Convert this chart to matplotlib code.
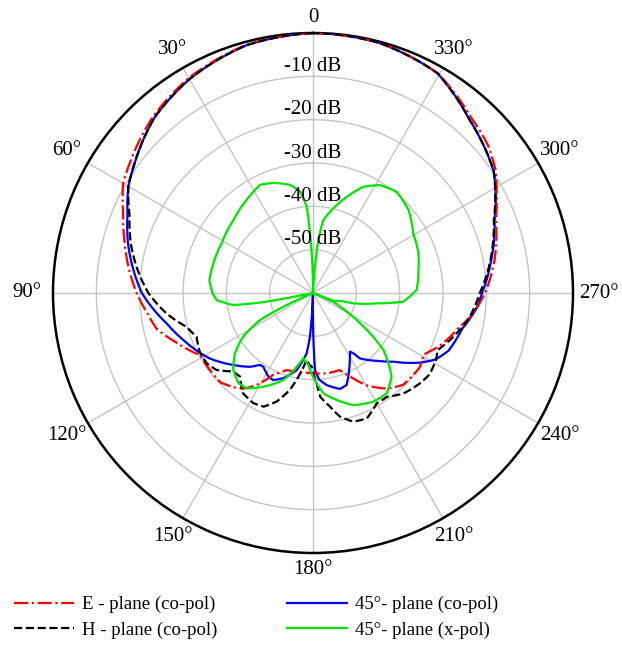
import numpy as np
import matplotlib
matplotlib.use("Agg")
import matplotlib.pyplot as plt

plt.rcParams['font.family'] = ['Liberation Serif', 'DejaVu Serif']

# angles in degrees (counter-clockwise from top), levels in dB
e_ang = [0, 15, 30, 42, 54, 60, 67, 75, 82, 90, 97, 103, 110, 119, 127, 134, 140, 144, 148.5,
         154, 161, 170.5, 180, 189.5, 199, 204, 210, 217.5, 224.5, 235, 241, 247.5, 256.5, 262,
         270, 280, 292, 298, 304, 310, 318, 330.5, 345, 360]
e_db = [0, -0.7, -2.7, -5, -8, -9.4, -12.4, -15, -17, -19.3, -21.5, -23, -26.5, -30.3, -30.3,
        -30.3, -31.6, -32.7, -35.1, -39, -41.2, -41.6, -41.5, -41.2, -41.2, -38.9, -35.4, -32.2,
        -30.3, -30, -30.8, -28.3, -25.5, -23, -20.3, -17.5, -14.5, -12, -9.2, -7.2, -5.5, -1.7,
        -0.3, 0]

h_ang = [0, 15, 30, 42, 54, 60, 67, 75, 82, 90, 98, 105, 110.5, 118, 123.5, 128.5, 134.5, 139,
         141, 145, 151.5, 156.5, 161.5, 166.5, 171, 174.5, 177, 179, 182.3, 184, 188.5, 192.3,
         197.4, 203.2, 210, 215.4, 222, 229.8, 235, 241.6, 245.3, 251, 261.4, 270, 280, 292,
         304, 318, 330.5, 345, 360]
h_db = [0, -0.8, -3, -5.4, -9.1, -10.8, -14, -16.5, -19, -22, -25.9, -29.8, -31.3, -30.5, -30.6,
        -31.5, -34.2, -34.4, -33.5, -31.8, -31.1, -31.4, -33.6, -37, -41.2, -44.5, -43.5, -43,
        -39.1, -36, -33.5, -30.8, -28.9, -28.5, -30.6, -30.6, -28.8, -27.7, -27.2, -27.7, -28.4,
        -26.6, -23.4, -21.5, -18.5, -15, -9.7, -6.1, -1.7, -0.3, 0]

b_ang = [0, 15, 30, 42, 54, 60, 67, 75, 82, 90, 101.7, 110, 118, 122.4, 132, 139.5, 143.6, 146,
         152, 155.5, 160.8, 168, 174, 176, 177.5, 178.5, 179.7, 180.4, 181.5, 184, 188.5, 195.7,
         200, 205.2, 209, 212.2, 213.8, 215.7, 223.3, 229.5, 237, 241.6, 247, 256.5, 265, 270,
         280, 292, 304, 318, 330.5, 345, 360]
b_db = [0, -0.8, -3, -5.4, -9.1, -10.8, -13.5, -15.8, -18, -20.5, -25.5, -28.2, -30.5, -31.8,
        -35.2, -37.6, -39.4, -39.5, -38.1, -37.9, -39.2, -41.8, -46, -50, -56, -60, -55, -50,
        -42.2, -40, -38.5, -37, -37.4, -40.4, -42.5, -44, -43.3, -41.4, -38.5, -35.6, -30.5,
        -27.8, -26, -24.6, -22, -21, -18.3, -14.8, -9.7, -6.1, -1.7, -0.3, 0]

g_ang = [0, 2.9, 4.2, 7.3, 12, 19.8, 26, 35.5, 47.5, 61.4, 73.4, 83, 90, 94.2, 98.6, 100.6,
         101.5, 113, 114.8, 117, 122, 127.7, 134, 140.4, 145.2, 152, 161.2, 167.5, 171.6, 176,
         182.3, 186, 192.5, 199.8, 209, 216.3, 223.2, 231, 237.2, 243, 246.5, 247.5, 249, 254,
         255.7, 260.8, 264.5, 271.7, 282.3, 290.7, 300.8, 311, 320.4, 328.2, 334.7, 340.7,
         346.5, 352, 354.3, 355.7, 358, 360]
g_db = [-60, -46.2, -40, -36.4, -34.5, -33, -32.2, -33.6, -35.1, -36, -36, -35.9, -36.8, -37.7,
        -41.4, -49.1, -60, -60, -52.5, -46.3, -41, -37.2, -34.4, -33, -33.2, -35.5, -38.8,
        -42.6, -44.8, -43.5, -39.1, -36.7, -34.7, -32.5, -31.3, -31.3, -33.5, -39.1, -47.1, -53,
        -55, -60, -55, -53.5, -50.4, -45.1, -39.1, -36.1, -35.1, -34, -33.1, -30.8, -29.7,
        -30.7, -32.9, -36.5, -39.9, -43, -47.7, -53.9, -60, -60]

r_labels = ['-10 dB', '-20 dB', '-30 dB', '-40 dB', '-50 dB']
theta_ticks = list(range(0, 360, 30))
theta_labels = ['0', '30°', '60°', '90°', '120°', '150°', '180°', '210°', '240°', '270°', '300°', '330°']

floor = -60


def to_r(db):
    return np.clip(np.array(db) - floor, 0, None)


fig = plt.figure(figsize=(6.22, 6.45), dpi=100)
ax = fig.add_axes([53 / 622, (352 - 260) / 645, 520 / 622, 520 / 645], projection='polar')
ax.set_theta_zero_location('N')
ax.set_theta_direction(1)

ax.plot(np.radians(b_ang), to_r(b_db), color='#0000ff', lw=1.6, label='45°- plane (co-pol)', zorder=3)
ax.plot(np.radians(e_ang), to_r(e_db), color='#ff0000', lw=1.6, ls='-.', label='E - plane (co-pol)', zorder=4)
ax.plot(np.radians(h_ang), to_r(h_db), color='black', lw=1.6, ls='--', label='H - plane (co-pol)', zorder=5)
ax.plot(np.radians(g_ang), to_r(g_db), color='#00e600', lw=1.6, label='45°- plane (x-pol)', zorder=6)

# let the polar transform draw curved segments between the points
for ln in ax.lines:
    ln.get_path()._interpolation_steps = 40

ax.set_ylim(0, 60)
ax.set_rgrids([10, 20, 30, 40, 50], labels=[''] * 5)
ax.set_thetagrids(theta_ticks, labels=[''] * len(theta_ticks))
ax.grid(True, color='#c4c4c4', lw=1)
ax.spines['polar'].set_color('black')
ax.spines['polar'].set_linewidth(1.8)

# angle labels, pushed a bit further out at the sides where the text is wide
for t, lab in zip(theta_ticks, theta_labels):
    rr = (276 + 10 * abs(np.sin(np.radians(t)))) / 260 * 60
    ax.text(np.radians(t), rr, lab, ha='center', va='center', fontsize=15, clip_on=False)

for i, lab in enumerate(r_labels):
    ax.text(0, 50 - 10 * i + 2.3, lab, ha='center', va='center', fontsize=15, zorder=7)

handles, labels = ax.get_legend_handles_labels()
order = [1, 2, 0, 3]
fig.legend([handles[i] for i in order], [labels[i] for i in order], ncol=2,
           loc='upper left', bbox_to_anchor=(14 / 622, 1 - 596 / 645), frameon=False,
           fontsize=13.5, handlelength=3.2, handletextpad=0.4, columnspacing=3.75,
           labelspacing=0.45, borderpad=0, borderaxespad=0)

fig.savefig('out.png', dpi=100)
